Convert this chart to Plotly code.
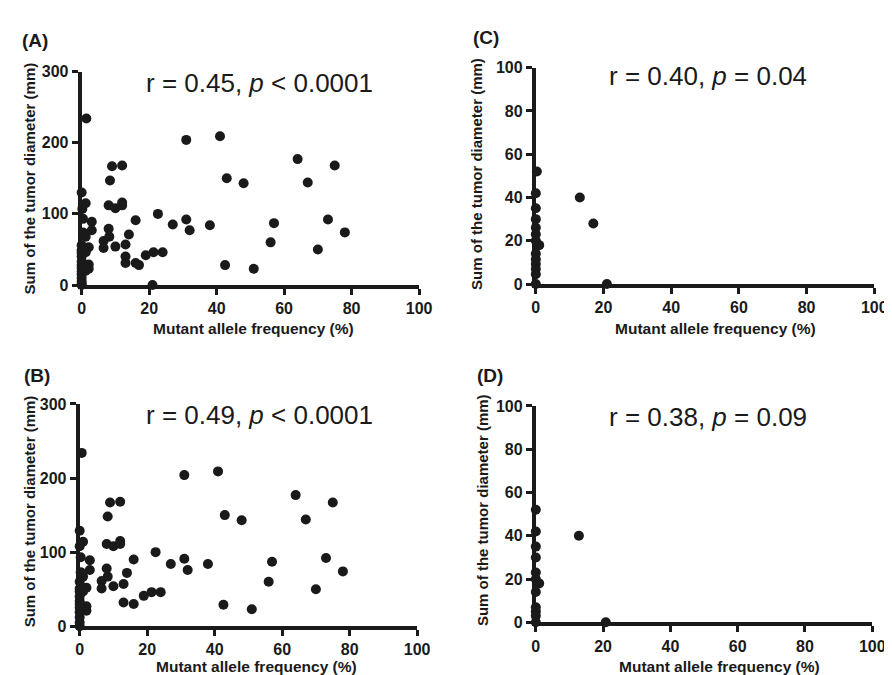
import plotly.graph_objects as go

W, H = 892, 675

# ---------------- data ----------------
# Panel A
a_x = [1.4, 31, 41, 64, 75, 9, 12, 8.4, 43, 48, 67,
       1.2, 8, 10, 12, 12,
       3, 16, 22.6, 27, 31, 32, 38, 57, 73, 78, 56, 70, 42.5, 51,
       3, 1.2, 8, 8.2, 6.5, 6.5, 10, 14, 13, 13, 13, 16, 17, 19, 21.3, 24, 21,
       2.1, 1.2, 1.2, 2.1, 2.1, 1, 1.2,
       0, 0.2, 0.4, 0.4, 0, 0, 0, 0, 0, 0, 0, 0, 0, 0, 0, 0, 0]
a_y = [234, 204, 209, 177, 168, 167, 168, 147, 150, 143, 144,
       115, 112, 108, 116, 112,
       89, 91, 100, 85, 92, 77, 84, 87, 92, 74, 60, 50, 28, 23,
       77, 68, 79, 68, 62, 52, 54, 71, 57, 40, 31, 31, 28, 42, 46, 46, 0,
       53, 46, 49, 29, 23, 26, 20,
       130, 107, 93, 74, 56, 49, 45, 40, 33, 28, 24, 19, 15, 10, 5, 1, 0]

# Panel B
b_x = [0.6, 31, 41, 64, 75, 9, 12, 8.3, 43, 48, 67,
       1, 8, 10, 12, 12,
       3, 16, 22.5, 27, 31, 32, 38, 57, 73, 78, 56, 70, 42.6, 51,
       3, 1, 8, 8.3, 6.5, 6.5, 10, 14, 13, 13, 16, 19, 21.3, 24,
       2, 1, 2, 2,
       0, 0, 0.3, 0.3, 0, 0, 0, 0, 0, 0, 0, 0, 0, 0, 0]
b_y = [234, 204, 209, 177, 167, 167, 168, 148, 150, 143, 144,
       114, 111, 108, 115, 111,
       89, 90, 100, 84, 91, 76, 84, 87, 92, 74, 60, 50, 29, 23,
       76, 67, 78, 67, 61, 51, 54, 72, 57, 32, 30, 41, 46, 46,
       52, 47, 27, 21,
       129, 108, 93, 73, 60, 51, 47, 40, 34, 30, 25, 19, 12, 5, 0]

# Panel C
c_x = [0.3, 0, 0, 0, 0, 0, 0, 1, 0, 0, 0, 0, 0, 0, 13, 17, 21]
c_y = [52, 42, 35, 30, 26, 23, 20, 18, 14, 11.5, 9.3, 7, 4.5, 0, 40, 28, 0]

# Panel D
d_x = [0, 0, 0, 0, 0, 0, 1, 0, 0, 0, 0, 0, 12.8, 20.8]
d_y = [52, 42, 35, 30, 23, 20, 18, 14, 7, 5, 3, 0, 40, 0]

x_ticks = [0, 20, 40, 60, 80, 100]
ab_y_ticks = [0, 100, 200, 300]
cd_y_ticks = [0, 20, 40, 60, 80, 100]

panel_labels = ["(A)", "(B)", "(C)", "(D)"]
stat_texts = ["r = 0.45, <i>p</i> &lt; 0.0001",
              "r = 0.49, <i>p</i> &lt; 0.0001",
              "r = 0.40, <i>p</i> = 0.04",
              "r = 0.38, <i>p</i> = 0.09"]
x_title = "Mutant allele frequency (%)"
y_title = "Sum of the tumor diameter (mm)"

# ---------------- layout helpers ----------------
FONT = "Arial, Liberation Sans, Helvetica, sans-serif"
INK = "#1a1a1a"

def px_x(v):
    return v / W

def px_y(v):
    return 1 - v / H

# plot-area boxes in pixels: (left, right, top, bottom)
boxes = [(71, 415, 57, 276),
         (69, 413, 398, 626),
         (534, 879, 53, 275),
         (534, 877, 400, 622)]

datasets = [(a_x, a_y), (b_x, b_y), (c_x, c_y), (d_x, d_y)]
yranges = [[0, 300], [0, 300], [0, 100], [0, 100]]
yticks = [ab_y_ticks, ab_y_ticks, cd_y_ticks, cd_y_ticks]

fig = go.Figure()
layout = {}
for i, ((xs, ys), box) in enumerate(zip(datasets, boxes)):
    n = "" if i == 0 else str(i + 1)
    fig.add_trace(go.Scatter(
        x=xs, y=ys, mode="markers",
        marker=dict(color=INK, size=10, line=dict(width=0)),
        xaxis="x" + n, yaxis="y" + n, cliponaxis=False, showlegend=False,
        hoverinfo="x+y"))
    l, r, t, b = box
    common = dict(showline=True, linewidth=4, linecolor=INK,
                  ticks="outside", ticklen=6, tickwidth=3, tickcolor=INK,
                  showgrid=False, zeroline=False,
                  tickfont=dict(family=FONT, size=16, color=INK, weight="bold"))
    layout["xaxis" + n] = dict(domain=[px_x(l), px_x(r)], range=[0, 100],
                               tickvals=x_ticks, anchor="y" + n, **common)
    layout["yaxis" + n] = dict(domain=[px_y(b), px_y(t)], range=yranges[i],
                               tickvals=yticks[i], anchor="x" + n, **common)

fig.update_layout(**layout)

annotations = []
# panel labels (left x, center y)
for txt, (x, y) in zip(panel_labels, [(8, 25), (10, 369), (468, 22), (472, 369)]):
    annotations.append(dict(text="<b>%s</b>" % txt, x=px_x(x), y=px_y(y),
                            xref="paper", yref="paper", xanchor="left", yanchor="middle",
                            showarrow=False, font=dict(family=FONT, size=19, color=INK)))
# stats text (center)
for txt, (x, y) in zip(stat_texts, [(252, 69), (252, 409), (710, 62), (710, 411)]):
    annotations.append(dict(text=txt, x=px_x(x), y=px_y(y),
                            xref="paper", yref="paper", xanchor="center", yanchor="middle",
                            showarrow=False, font=dict(family=FONT, size=26, color=INK)))
# x axis titles
for (x, y) in [(246, 321), (249, 667), (717, 321), (721, 667)]:
    annotations.append(dict(text="<b>%s</b>" % x_title, x=px_x(x), y=px_y(y),
                            xref="paper", yref="paper", xanchor="center", yanchor="middle",
                            showarrow=False, font=dict(family=FONT, size=15.5, color=INK)))
# y axis titles
for (x, y) in [(18, 167), (17.5, 508), (474, 162), (479, 507)]:
    annotations.append(dict(text="<b>%s</b>" % y_title, x=px_x(x), y=px_y(y),
                            xref="paper", yref="paper", xanchor="center", yanchor="middle",
                            textangle=-90,
                            showarrow=False, font=dict(family=FONT, size=15, color=INK)))

fig.update_layout(
    width=W, height=H,
    margin=dict(l=0, r=0, t=0, b=0),
    paper_bgcolor="white", plot_bgcolor="white",
    annotations=annotations,
    showlegend=False,
)

fig.write_html("out.html")
